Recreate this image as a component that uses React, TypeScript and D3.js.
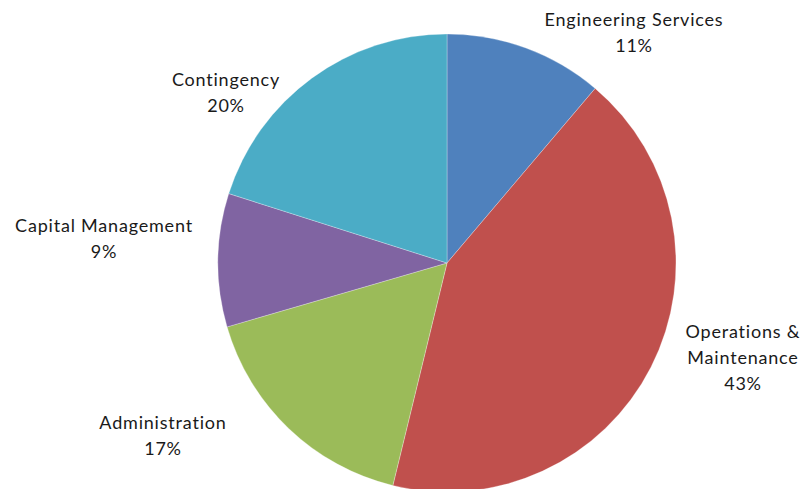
import React from "react";
import * as d3 from "d3";

const categories = ["Engineering Services", "Operations & Maintenance", "Administration", "Capital Management", "Contingency"];
const values = [11.2, 42.6, 16.7, 9.4, 20.1];
const colors = ["#4F81BD", "#C0504D", "#9BBB59", "#8064A2", "#4BACC6"];
const labelNames = [
  ["Engineering Services"],
  ["Operations &", "Maintenance"],
  ["Administration"],
  ["Capital Management"],
  ["Contingency"],
];

// layout (label anchor: center x, first baseline y)
const W = 806, H = 489;
const CX = 447, CY = 263, R = 229;
const labelAnchors: [number, number][] = [
  [634, 26],
  [743, 338],
  [163, 429],
  [104, 232],
  [226, 86],
];
const LINE_H = 26;

export default function App() {
  const pie = d3.pie<number>().sort(null).value((d) => d)(values);
  const arc = d3.arc<d3.PieArcDatum<number>>().innerRadius(0).outerRadius(R);
  const total = d3.sum(values);
  return (
    <svg width={W} height={H} style={{ position: "absolute", left: 0, top: 0, background: "#fff" }}>
      <g transform={`translate(${CX},${CY})`}>
        {pie.map((p, i) => (
          <path key={categories[i]} d={arc(p) || ""} fill={colors[i]} stroke="#ffffff" strokeOpacity={0.35} strokeWidth={0.8} />
        ))}
      </g>
      {labelNames.map((names, i) => {
        const lines = [...names, `${Math.round((values[i] / total) * 100)}%`];
        return (
          <text key={i} x={labelAnchors[i][0]} y={labelAnchors[i][1]} textAnchor="middle" fontFamily="Lato, 'Open Sans', sans-serif" fontSize={18} letterSpacing={0.8} fill="#1a1a1a">
            {lines.map((l, j) => (
              <tspan key={j} x={labelAnchors[i][0]} dy={j === 0 ? 0 : LINE_H}>{l}</tspan>
            ))}
          </text>
        );
      })}
    </svg>
  );
}
